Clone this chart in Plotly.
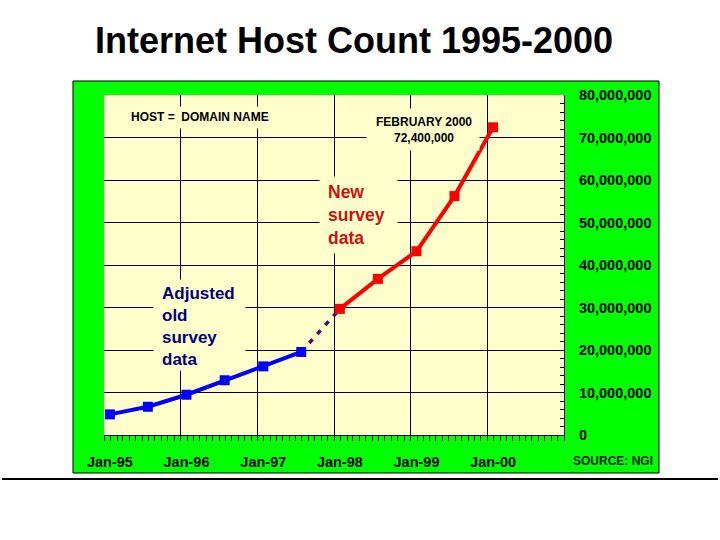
import plotly.graph_objects as go

# ---- data ----
old_dates = ["1995-01-01", "1995-07-01", "1996-01-01", "1996-07-01", "1997-01-01", "1997-07-01"]
old_hosts = [4852000, 6642000, 9472000, 12881000, 16146000, 19540000]
new_dates = ["1998-01-01", "1998-07-01", "1999-01-01", "1999-07-01", "2000-01-01"]
new_hosts = [29670000, 36739000, 43230000, 56218000, 72400000]

x_label_vals = ["1995-01-01", "1996-01-01", "1997-01-01", "1998-01-01", "1999-01-01", "2000-01-01"]
x_label_text = ["Jan-95", "Jan-96", "Jan-97", "Jan-98", "Jan-99", "Jan-00"]
x_grid_vals = ["1995-12-04", "1996-12-04", "1997-12-04", "1998-12-04", "1999-12-04"]
x_range = ["1994-12-04", "2000-12-04"]

y_tick_vals = [0, 10000000, 20000000, 30000000, 40000000, 50000000, 60000000, 70000000, 80000000]
y_grid_vals = [10000000, 20000000, 30000000, 40000000, 50000000, 60000000, 70000000]
y_range = [0, 80000000]

FONT = "Liberation Sans, Arial, sans-serif"
GREEN = "#00FF00"
YELLOW = "#FFFFCC"

fig = go.Figure()

# dashed connector between old and new survey
fig.add_trace(go.Scatter(
    x=[old_dates[-1], new_dates[0]], y=[old_hosts[-1], new_hosts[0]],
    mode="lines", line=dict(color="#660066", width=3.5, dash="5px,7px"),
    hoverinfo="skip", showlegend=False))

fig.add_trace(go.Scatter(
    x=old_dates, y=old_hosts, mode="lines+markers",
    line=dict(color="#0000FF", width=4),
    marker=dict(symbol="square", size=10, color="#0000FF"),
    showlegend=False, cliponaxis=False))

fig.add_trace(go.Scatter(
    x=new_dates, y=new_hosts, mode="lines+markers",
    line=dict(color="#FF0000", width=4),
    marker=dict(symbol="square", size=10, color="#FF0000"),
    showlegend=False, cliponaxis=False))

# dummy trace for the grid axes
fig.add_trace(go.Scatter(x=[None], y=[None], xaxis="x2", yaxis="y2",
                         showlegend=False, hoverinfo="skip"))

tickfont = dict(family=FONT, size=14.5, color="#000000", weight="bold")


def label_bg(cx, cy, w, h):
    # plain yellow panel behind a label (hides the grid lines there)
    return dict(text=" ", xref="paper", yref="paper", x=cx, y=cy,
                xanchor="center", yanchor="middle", showarrow=False,
                width=w, height=h, borderpad=0, bgcolor=YELLOW,
                font=dict(size=4))


fig.update_layout(
    width=720, height=540,
    margin=dict(l=104, r=156, t=95, b=105),
    paper_bgcolor="white",
    plot_bgcolor="rgba(0,0,0,0)",
    title=dict(text="Internet Host Count 1995-2000",
               font=dict(family=FONT, size=36, color="black", weight="bold"),
               xref="container", yref="container",
               x=354/720, xanchor="center", y=1-40/540, yanchor="middle"),
    xaxis=dict(type="date", range=x_range, tickmode="array",
               tickvals=x_label_vals, ticktext=x_label_text,
               ticks="", showgrid=False, zeroline=False,
               showline=True, linecolor="black", linewidth=1,
               tickfont=tickfont, ticklabelstandoff=14),
    xaxis2=dict(type="date", range=x_range, overlaying="x", side="bottom",
                tickmode="array", tickvals=x_grid_vals, showticklabels=False,
                showgrid=True, gridcolor="black", gridwidth=1,
                ticks="outside", ticklen=5, tickcolor="black", tickwidth=1,
                minor=dict(tick0=x_range[0], dtick="M1", ticks="outside",
                           ticklen=5, tickcolor="black", showgrid=False),
                zeroline=False),
    yaxis=dict(range=y_range, side="right", tickmode="array",
               tickvals=y_tick_vals, tickformat=",d",
               showgrid=False, zeroline=False,
               showline=True, linecolor="black", linewidth=1,
               ticks="inside", ticklen=6, tickcolor="black",
               minor=dict(dtick=2000000, tick0=0, ticks="inside", ticklen=4,
                          tickcolor="black", showgrid=False),
               tickfont=tickfont, ticklabelstandoff=11),
    yaxis2=dict(range=y_range, overlaying="y", side="right",
                tickmode="array", tickvals=y_grid_vals,
                showticklabels=False, ticks="",
                showgrid=True, gridcolor="black", gridwidth=1, zeroline=False),
    shapes=[
        dict(type="rect", xref="paper", yref="paper",
             x0=-0.0674, x1=1.2065, y0=-0.1118, y1=1.0412,
             fillcolor=GREEN, line=dict(color="black", width=1), layer="below"),
        dict(type="rect", xref="paper", yref="paper",
             x0=0, x1=1, y0=0, y1=1,
             fillcolor=YELLOW, line=dict(width=0), layer="below"),
        dict(type="line", xref="paper", yref="paper",
             x0=-0.2217, x1=1.3348, y0=-0.1294, y1=-0.1294,
             line=dict(color="black", width=2)),
    ],
    annotations=[
        label_bg(0.2087, 0.9338, 150, 21),
        label_bg(0.6935, 0.8985, 112, 41),
        label_bg(0.5533, 0.6471, 77, 76),
        label_bg(0.2076, 0.3235, 91, 90),
        dict(text="HOST =  DOMAIN NAME", xref="paper", yref="paper",
             x=0.2087, y=0.935, xanchor="center", yanchor="middle",
             showarrow=False,
             font=dict(family=FONT, size=12, color="black", weight="bold")),
        dict(text="FEBRUARY 2000<br>72,400,000", xref="paper", yref="paper",
             x=0.6946, y=0.8970, xanchor="center", yanchor="middle",
             showarrow=False, align="center",
             font=dict(family=FONT, size=12, color="black", weight="bold")),
        dict(text="New<br>survey<br>data", xref="paper", yref="paper",
             x=0.4826, y=0.6485, xanchor="left", yanchor="middle",
             showarrow=False, align="left",
             font=dict(family=FONT, size=17.5, color="#D01010", weight="bold")),
        dict(text="Adjusted<br>old<br>survey<br>data", xref="paper", yref="paper",
             x=0.1217, y=0.319, xanchor="left", yanchor="middle",
             showarrow=False, align="left",
             font=dict(family=FONT, size=17, color="#000080", weight="bold")),
        dict(text="SOURCE: NGI", xref="paper", yref="paper",
             x=1.1065, y=-0.0765, xanchor="center", yanchor="middle",
             showarrow=False,
             font=dict(family=FONT, size=12, color="#002000", weight="bold")),
    ],
)

fig.write_html("out.html", config={"displayModeBar": False},
               post_script="document.body.style.margin='0px';")
